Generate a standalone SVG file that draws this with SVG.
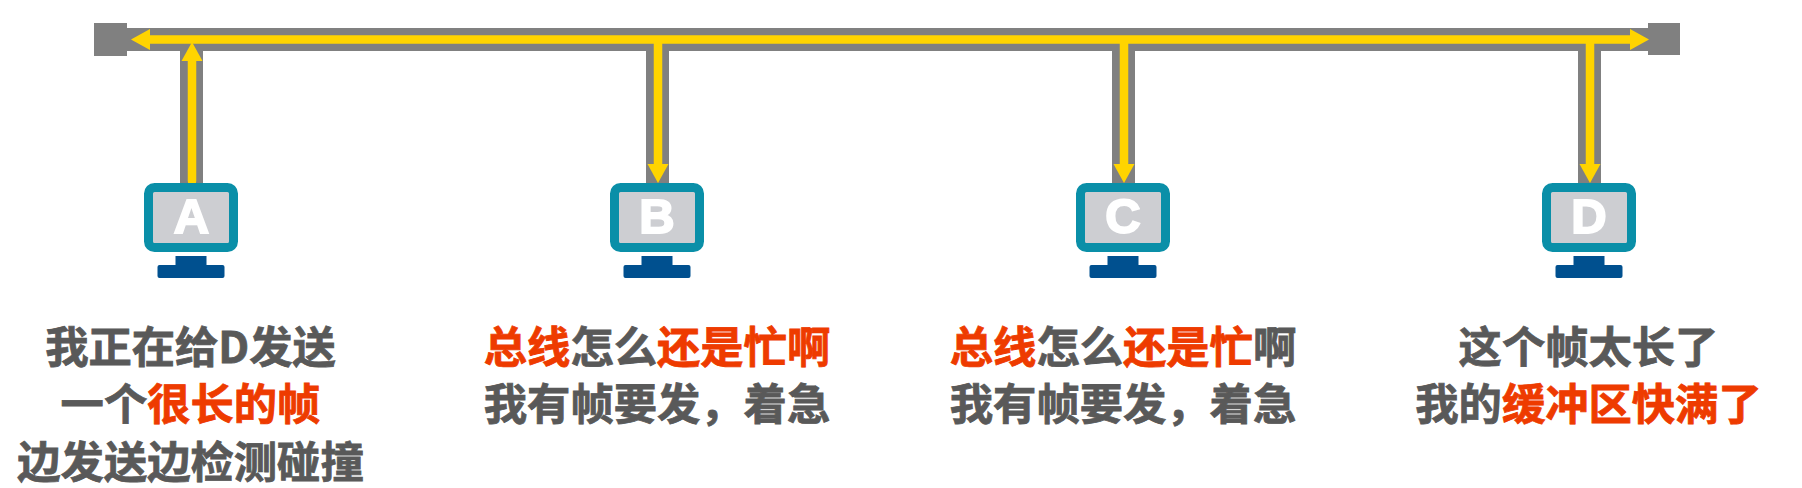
<svg xmlns="http://www.w3.org/2000/svg" width="1802" height="488" viewBox="0 0 1802 488">
<defs>
<marker id="head" markerUnits="userSpaceOnUse" markerWidth="19" markerHeight="22" viewBox="0 0 19 22" refX="1" refY="11" orient="auto-start-reverse"><path d="M0,0.500 L19,11 L0,21.500 Z" fill="#FFD400"/></marker>
<g id="monitor">
<rect x="-42.500" y="187.500" width="85" height="60" rx="6" fill="#CDCED2" stroke="#0A8FA8" stroke-width="9"/>
<rect x="-15.500" y="256" width="31" height="10" fill="#00508F"/>
<rect x="-33.500" y="265" width="67" height="13" rx="2" fill="#00508F"/>
</g>
</defs>
<style>
.bus{stroke:#808080;fill:none;stroke-width:23}
.sig{stroke:#FFD400;fill:none;stroke-width:8.5}
.end{fill:#808080}
.mark{font:bold 49px "Liberation Sans",Arial,sans-serif;fill:#fff;stroke:#fff;stroke-width:2;text-anchor:middle}
.t{font:bold 43.300px "Noto Sans CJK SC","Noto Sans",sans-serif;fill:#595959;stroke:#595959;stroke-width:0.8;text-anchor:middle}
.r{fill:#EE3B00;stroke:#EE3B00}
</style>
<rect width="1802" height="488" fill="#fff"/>
<g id="connectors">
<rect class="end" x="94" y="23" width="33" height="33"/>
<rect class="end" x="1648" y="23" width="32" height="32"/>
<path class="bus" d="M120,39.500H1655"/>
<path class="bus" d="M191.500,51V184M657.500,51V184M1123.500,51V184M1589.500,51V184"/>
<path class="sig" d="M149,39.500H1631" marker-start="url(#head)" marker-end="url(#head)"/>
<path class="sig" d="M192,181V60" stroke-linecap="round" marker-end="url(#head)"/>
<path class="sig" d="M658,40V165" marker-end="url(#head)"/>
<path class="sig" d="M1124,40V165" marker-end="url(#head)"/>
<path class="sig" d="M1590,40V165" marker-end="url(#head)"/>
</g>
<g id="node-a"><use href="#monitor" x="191"/><text class="mark" x="191.500" y="233">A</text>
<text class="t" x="190.500" y="363">我正在给D发送</text>
<text class="t" x="190.500" y="420">一个<tspan class="r">很长的帧</tspan></text>
<text class="t" x="190.500" y="478">边发送边检测碰撞</text></g>
<g id="node-b"><use href="#monitor" x="657"/><text class="mark" x="657" y="233">B</text>
<text class="t" x="657" y="363"><tspan class="r">总线</tspan>怎么<tspan class="r">还是忙啊</tspan></text>
<text class="t" x="657" y="420">我有帧要发，着急</text></g>
<g id="node-c"><use href="#monitor" x="1123"/><text class="mark" x="1123" y="233">C</text>
<text class="t" x="1123" y="363"><tspan class="r">总线</tspan>怎么<tspan class="r">还是忙</tspan>啊</text>
<text class="t" x="1123" y="420">我有帧要发，着急</text></g>
<g id="node-d"><use href="#monitor" x="1589"/><text class="mark" x="1589" y="233">D</text>
<text class="t" x="1588.500" y="363">这个帧太长了</text>
<text class="t" x="1588.500" y="420">我的<tspan class="r">缓冲区快满了</tspan></text></g>
</svg>
